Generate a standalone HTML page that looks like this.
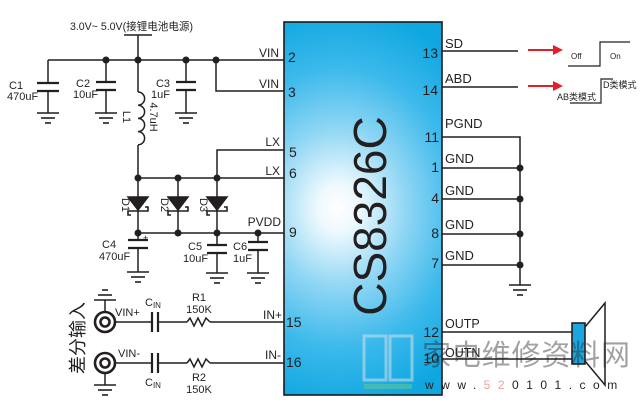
<!DOCTYPE html>
<html><head><meta charset="utf-8"><style>
html,body{margin:0;padding:0;background:#fff;}
svg{display:block;}
text{font-family:"Liberation Sans","Noto Sans CJK SC",sans-serif;fill:#231f20;}
</style></head><body>
<svg width="640" height="411" viewBox="0 0 640 411" xmlns="http://www.w3.org/2000/svg">
<defs>
<radialGradient id="chipg" gradientUnits="userSpaceOnUse" cx="338" cy="208" r="200" gradientTransform="translate(338 208) scale(0.85 1) translate(-338 -208)">
<stop offset="0" stop-color="#ffffff"/>
<stop offset="0.12" stop-color="#eef9fe"/>
<stop offset="0.4" stop-color="#8fd6f4"/>
<stop offset="0.7" stop-color="#3cb9eb"/>
<stop offset="1" stop-color="#10a7e1"/>
</radialGradient>
<g id="gnd" stroke="#231f20" stroke-width="1.6"><line x1="-11" y1="0" x2="11" y2="0"/><line x1="-7" y1="5" x2="7" y2="5"/><line x1="-3" y1="10" x2="3" y2="10"/></g>
</defs>

<!-- Chip -->
<rect x="284" y="22" width="158" height="373" fill="url(#chipg)" stroke="#1a1a1a" stroke-width="1.6"/>

<!-- watermark book -->
<g opacity="0.6">
<rect x="364" y="336" width="22" height="44" fill="none" stroke="#c4dde9" stroke-width="3"/>
<rect x="390" y="336" width="22" height="44" fill="none" stroke="#c4dde9" stroke-width="3"/>
<rect x="364" y="384" width="48" height="5" fill="#5fc49a"/>
</g>

<text transform="translate(386,216) rotate(-90)" text-anchor="middle" font-size="46" fill="#1a1a1a">CS8326C</text>

<g stroke="#231f20" stroke-width="1.5" fill="none">
<!-- top supply -->
<line x1="124" y1="35" x2="152" y2="35"/>
<line x1="138" y1="35" x2="138" y2="60"/>
<line x1="48" y1="60" x2="284" y2="60"/>
<polyline points="216,60 216,91 284,91"/>
<!-- C1 -->
<line x1="48" y1="60" x2="48" y2="83"/>
<line x1="48" y1="91" x2="48" y2="113"/>
<!-- C2 -->
<line x1="106" y1="60" x2="106" y2="82"/>
<line x1="106" y1="90" x2="106" y2="113"/>
<!-- C3 -->
<line x1="186" y1="60" x2="186" y2="82"/>
<line x1="186" y1="90" x2="186" y2="113"/>
<!-- L1 -->
<line x1="138" y1="60" x2="138" y2="92"/>
<path d="M138,92 a6.6,6.6 0 0 1 0,13.2 a6.6,6.6 0 0 1 0,13.2 a6.6,6.6 0 0 1 0,13.2 a6.6,6.6 0 0 1 0,13.2"/>
<line x1="138" y1="145" x2="138" y2="233"/>
<!-- LX -->
<line x1="138" y1="178" x2="284" y2="178"/>
<polyline points="217,178 217,150 284,150"/>
<line x1="178" y1="178" x2="178" y2="233"/>
<line x1="217" y1="178" x2="217" y2="233"/>
<!-- PVDD -->
<line x1="138" y1="233" x2="284" y2="233"/>
<!-- C4 -->
<line x1="138" y1="233" x2="138" y2="240"/>
<line x1="138" y1="248" x2="138" y2="272"/>
<!-- C5 -->
<line x1="217" y1="233" x2="217" y2="245"/>
<line x1="217" y1="253" x2="217" y2="273"/>
<!-- C6 -->
<line x1="258" y1="233" x2="258" y2="242"/>
<line x1="258" y1="250" x2="258" y2="273"/>

<!-- inputs -->
<line x1="116" y1="322" x2="152" y2="322"/>
<line x1="158" y1="322" x2="187" y2="322"/>
<polyline points="187,322 190,318 194,326 198,318 202,326 206,318 210,322"/>
<line x1="210" y1="322" x2="284" y2="322"/>
<line x1="105" y1="300" x2="105" y2="311"/>
<line x1="116" y1="363" x2="152" y2="363"/>
<line x1="158" y1="363" x2="187" y2="363"/>
<polyline points="187,363 190,359 194,367 198,359 202,367 206,359 210,363"/>
<line x1="210" y1="363" x2="284" y2="363"/>
<line x1="105" y1="374" x2="105" y2="385"/>

<!-- right side -->
<line x1="442" y1="51" x2="518" y2="51"/>
<line x1="442" y1="87" x2="518" y2="87"/>
<polyline points="442,137 520,137 520,285"/>
<line x1="442" y1="168" x2="520" y2="168"/>
<line x1="442" y1="199" x2="520" y2="199"/>
<line x1="442" y1="234" x2="520" y2="234"/>
<line x1="442" y1="265" x2="520" y2="265"/>
<line x1="442" y1="332" x2="572" y2="332"/>
<line x1="442" y1="359" x2="572" y2="359"/>
<!-- speaker cone -->
<polyline points="585,327 605,303 605,385 585,361"/>
<!-- waveforms -->
<polyline points="568,66 600,66 600,42 630,42" stroke-width="1.2"/>
<polyline points="570,103 601,103 601,79 613,79" stroke-width="1.2"/>
</g>

<!-- capacitor plates -->
<g stroke="#231f20" stroke-width="2.2">
<line x1="37" y1="83" x2="59" y2="83"/><line x1="37" y1="91" x2="59" y2="91"/>
<line x1="96" y1="82" x2="116" y2="82"/><line x1="96" y1="90" x2="116" y2="90"/>
<line x1="176" y1="82" x2="196" y2="82"/><line x1="176" y1="90" x2="196" y2="90"/>
<line x1="128" y1="240" x2="148" y2="240"/><line x1="128" y1="248" x2="148" y2="248"/>
<line x1="207" y1="245" x2="227" y2="245"/><line x1="207" y1="253" x2="227" y2="253"/>
<line x1="248" y1="242" x2="268" y2="242"/><line x1="248" y1="250" x2="268" y2="250"/>
<line x1="152" y1="312" x2="152" y2="332"/><line x1="158" y1="312" x2="158" y2="332"/>
<line x1="152" y1="353" x2="152" y2="373"/><line x1="158" y1="353" x2="158" y2="373"/>
</g>

<!-- grounds -->
<use href="#gnd" x="48" y="113"/>
<use href="#gnd" x="106" y="113"/>
<use href="#gnd" x="186" y="113"/>
<use href="#gnd" x="138" y="272"/>
<use href="#gnd" x="217" y="273"/>
<use href="#gnd" x="258" y="273"/>
<use href="#gnd" x="520" y="285"/>
<use href="#gnd" x="105" y="385"/>
<g transform="translate(105,300) scale(1,-1)"><use href="#gnd"/></g>

<!-- diodes -->
<g fill="#231f20" stroke="#231f20" stroke-width="1.5">
<polygon points="128,197 148,197 138,210"/>
<polygon points="168,197 188,197 178,210"/>
<polygon points="207,197 227,197 217,210"/>
</g>
<g fill="none" stroke="#231f20" stroke-width="1.6">
<polyline points="131,215 128,215 128,211 148,211 148,207 145,207"/>
<polyline points="171,215 168,215 168,211 188,211 188,207 185,207"/>
<polyline points="210,215 207,215 207,211 227,211 227,207 224,207"/>
</g>

<!-- jacks -->
<g fill="none" stroke="#231f20" stroke-width="2.6">
<circle cx="105" cy="322" r="10"/><circle cx="105" cy="322" r="4.5"/>
<circle cx="105" cy="363" r="10"/><circle cx="105" cy="363" r="4.5"/>
</g>

<!-- dots -->
<g fill="#231f20">
<circle cx="106" cy="60" r="3.5"/><circle cx="138" cy="60" r="3.5"/><circle cx="186" cy="60" r="3.5"/><circle cx="216" cy="60" r="3.5"/>
<circle cx="138" cy="178" r="3.5"/><circle cx="178" cy="178" r="3.5"/><circle cx="217" cy="178" r="3.5"/>
<circle cx="138" cy="233" r="3.5"/><circle cx="178" cy="233" r="3.5"/><circle cx="217" cy="233" r="3.5"/><circle cx="258" cy="233" r="3.5"/>
<circle cx="520" cy="168" r="3.5"/><circle cx="520" cy="199" r="3.5"/><circle cx="520" cy="234" r="3.5"/><circle cx="520" cy="265" r="3.5"/>
</g>

<!-- speaker body -->
<rect x="572" y="323" width="13" height="41" fill="#1aa6de" stroke="#231f20" stroke-width="1.6"/>

<!-- red arrows -->
<g fill="#e3202a" stroke="#e3202a">
<line x1="528" y1="50" x2="554" y2="50" stroke-width="2"/>
<polygon points="553,45 563,50 553,55" stroke="none"/>
<line x1="528" y1="86" x2="554" y2="86" stroke-width="2"/>
<polygon points="553,81 563,86 553,91" stroke="none"/>
</g>

<!-- texts -->
<text x="70" y="30" font-size="11" textLength="123" lengthAdjust="spacingAndGlyphs">3.0V~ 5.0V(接锂电池电源)</text>

<g font-size="11">
<text x="9" y="89">C1</text>
<text x="7" y="100">470uF</text>
<text x="76" y="87">C2</text>
<text x="73" y="98">10uF</text>
<text x="170" y="87" text-anchor="end">C3</text>
<text x="170" y="98" text-anchor="end">1uF</text>
<text transform="translate(123,117) rotate(90)" text-anchor="middle">L1</text>
<text transform="translate(150,117) rotate(90)" text-anchor="middle">4.7uH</text>
<text transform="translate(122,205) rotate(90)" text-anchor="middle">D1</text>
<text transform="translate(161,205) rotate(90)" text-anchor="middle">D2</text>
<text transform="translate(200,205) rotate(90)" text-anchor="middle">D3</text>
<text x="102" y="248">C4</text>
<text x="99" y="260">470uF</text>
<text x="143" y="241" font-size="9">+</text>
<text x="188" y="250">C5</text>
<text x="183" y="262">10uF</text>
<text x="233" y="250">C6</text>
<text x="233" y="262">1uF</text>
<text x="199" y="301" text-anchor="middle">R1</text>
<text x="199" y="313" text-anchor="middle">150K</text>
<text x="199" y="381" text-anchor="middle">R2</text>
<text x="199" y="393" text-anchor="middle">150K</text>
<text x="115" y="316">VIN+</text>
<text x="118" y="357">VIN-</text>
<text x="145" y="306">C<tspan font-size="8" dy="2">IN</tspan></text>
<text x="145" y="386">C<tspan font-size="8" dy="2">IN</tspan></text>
</g>

<g font-size="12">
<text x="279" y="57" text-anchor="end">VIN</text>
<text x="279" y="88" text-anchor="end">VIN</text>
<text x="280" y="146" text-anchor="end">LX</text>
<text x="280" y="175" text-anchor="end">LX</text>
<text x="281" y="226" text-anchor="end">PVDD</text>
<text x="282" y="319" text-anchor="end">IN+</text>
<text x="281" y="359" text-anchor="end">IN-</text>
</g>

<g font-size="14">
<text x="288" y="62">2</text>
<text x="288" y="97">3</text>
<text x="289" y="157">5</text>
<text x="289" y="178">6</text>
<text x="289" y="237">9</text>
<text x="286" y="327">15</text>
<text x="286" y="367">16</text>
<text x="438" y="58" text-anchor="end">13</text>
<text x="438" y="95" text-anchor="end">14</text>
<text x="439" y="142" text-anchor="end">11</text>
<text x="439" y="172" text-anchor="end">1</text>
<text x="439" y="203" text-anchor="end">4</text>
<text x="439" y="238" text-anchor="end">8</text>
<text x="439" y="268" text-anchor="end">7</text>
<text x="439" y="337" text-anchor="end">12</text>
<text x="439" y="363" text-anchor="end">10</text>
</g>

<g font-size="13">
<text x="445" y="48">SD</text>
<text x="445" y="83">ABD</text>
<text x="445" y="128">PGND</text>
<text x="445" y="163">GND</text>
<text x="445" y="195">GND</text>
<text x="445" y="229">GND</text>
<text x="445" y="260">GND</text>
<text x="445" y="328" font-size="12.5">OUTP</text>
<text x="445" y="357" font-size="12.5">OUTN</text>
</g>

<g font-size="8">
<text x="571" y="59">Off</text>
<text x="610" y="59">On</text>
</g>
<g font-size="9">
<text x="557" y="100">AB类模式</text>
<text x="603" y="88">D类模式</text>
</g>

<text transform="translate(84,338) rotate(-90)" text-anchor="middle" font-size="18">差分输入</text>

<!-- watermark text -->
<text x="422" y="365" font-size="29" fill="#8fb0c8" opacity="0.42" textLength="208" font-family="'Noto Serif CJK SC',serif">家电维修资料网</text>
<text x="425" y="389" font-size="12" fill="#d2d7dc" letter-spacing="7.5">www.<tspan fill="#f0a0a4">52</tspan>0101.com</text>
</svg>
</body></html>
